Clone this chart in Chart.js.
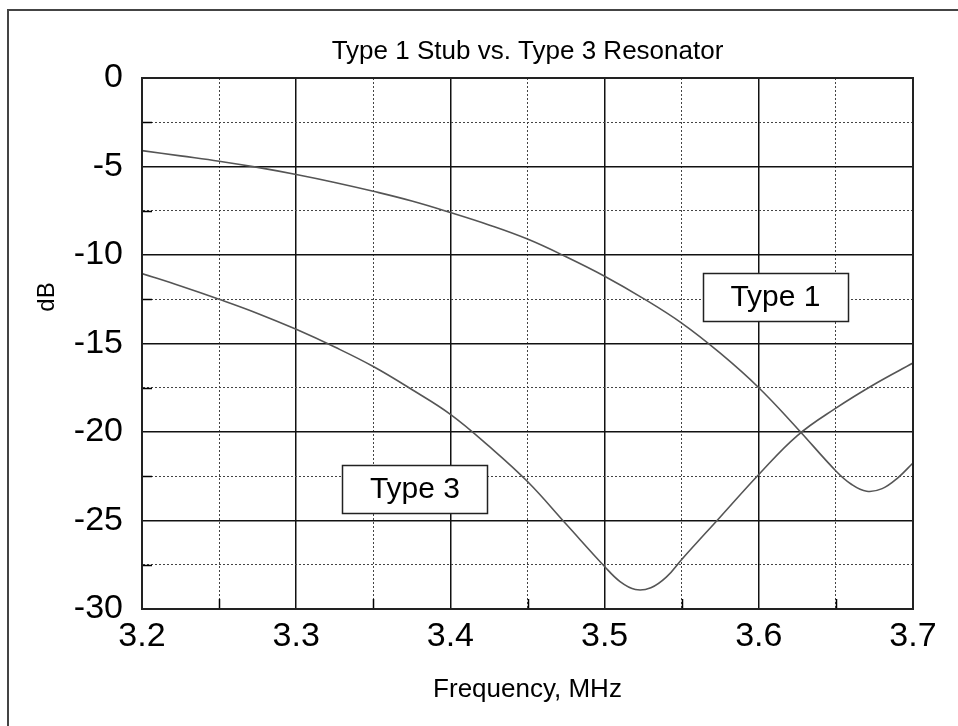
<!DOCTYPE html>
<html>
<head>
<meta charset="utf-8">
<script src="https://cdn.jsdelivr.net/npm/chart.js@4/dist/chart.umd.min.js"></script>
<style>
html, body { margin: 0; padding: 0; background: #fff; }
#wrap { width: 958px; height: 726px; position: relative; }
</style>
</head>
<body>
<div id="wrap"><canvas id="chart"></canvas></div>
<script>
// frequency (MHz) / level (dB)
var freq1 = [3.2, 3.225, 3.25, 3.275, 3.3, 3.325, 3.35, 3.375, 3.4, 3.425, 3.45, 3.475, 3.5, 3.525, 3.55, 3.575, 3.6, 3.625, 3.65, 3.66, 3.67, 3.68, 3.69, 3.7];
var type1 = [-4.1, -4.4, -4.7, -5.05, -5.45, -5.9, -6.4, -6.95, -7.6, -8.3, -9.1, -10.1, -11.2, -12.45, -13.85, -15.55, -17.5, -19.8, -22.2, -22.95, -23.35, -23.2, -22.6, -21.75];
var freq3 = [3.2, 3.225, 3.25, 3.275, 3.3, 3.325, 3.35, 3.375, 3.4, 3.425, 3.45, 3.475, 3.5, 3.51, 3.52, 3.53, 3.54, 3.55, 3.575, 3.6, 3.625, 3.65, 3.675, 3.7];
var type3 = [-11.05, -11.75, -12.5, -13.3, -14.2, -15.2, -16.3, -17.6, -19.0, -20.8, -22.8, -25.2, -27.6, -28.45, -28.9, -28.8, -28.2, -27.2, -24.8, -22.4, -20.2, -18.65, -17.3, -16.1];
var xRange = [3.2, 3.7];
var yRange = [-30, 0];
var xStep = 0.05;   // dotted every 0.05, labelled every 0.1
var yStep = 2.5;    // dotted every 2.5, labelled every 5
var titleText = 'Type 1 Stub vs. Type 3 Resonator';
var yTitle = 'dB';

function pts(xs, ys) {
    return xs.map(function(x, i) { return {x: x, y: ys[i]}; });
}
function isMajor(v, step) {
    var r = v / step;
    return Math.abs(r - Math.round(r)) < 1e-6;
}

var FONT = "'Liberation Sans', Arial, sans-serif";

// text boxes sitting on the plot (data coords)
var boxes = [
    {text: 'Type 1', x: 3.6108, y: -12.37},
    {text: 'Type 3', x: 3.377, y: -23.22}
];

var extras = {
    id: 'extras',
    beforeDraw: function(chart) {
        var c = chart.ctx, a = chart.chartArea;
        c.save();
        c.fillStyle = '#fff';
        c.fillRect(0, 0, chart.width, chart.height);
        c.strokeStyle = '#444';
        c.lineWidth = 2;
        c.strokeRect(8, 10, chart.width + 20, chart.height + 20);
        // title over the plot, and the y axis name
        c.fillStyle = '#000';
        c.textAlign = 'center';
        c.textBaseline = 'middle';
        c.font = '26px ' + FONT;
        c.fillText(titleText, (a.left + a.right) / 2, 52);
        c.translate(47, 297);
        c.rotate(-Math.PI / 2);
        c.font = '24px ' + FONT;
        c.fillText(yTitle, 0, 0);
        c.restore();
    },
    afterDatasetsDraw: function(chart) {
        var c = chart.ctx, a = chart.chartArea;
        var xs = chart.scales.x, ys = chart.scales.y;
        c.save();
        // short solid ticks on the minor lines
        c.strokeStyle = '#000';
        c.lineWidth = 1.5;
        xs.ticks.forEach(function(t) {
            if (isMajor(t.value, 0.1)) return;
            var px = Math.round(xs.getPixelForValue(t.value)) + 0.5;
            c.beginPath(); c.moveTo(px, a.bottom); c.lineTo(px, a.bottom - 10); c.stroke();
        });
        ys.ticks.forEach(function(t) {
            if (isMajor(t.value, 5)) return;
            var py = Math.round(ys.getPixelForValue(t.value)) + 0.5;
            c.beginPath(); c.moveTo(a.left, py); c.lineTo(a.left + 10, py); c.stroke();
        });
        // plot frame
        c.lineWidth = 2;
        c.strokeStyle = '#222';
        c.strokeRect(a.left, a.top, a.right - a.left, a.bottom - a.top);
        // labels
        c.font = '30px ' + FONT;
        c.textAlign = 'center';
        c.textBaseline = 'middle';
        boxes.forEach(function(b) {
            var cx = xs.getPixelForValue(b.x), cy = ys.getPixelForValue(b.y);
            var w = 145, h = 48;
            c.fillStyle = '#fff';
            c.fillRect(cx - w / 2, cy - h / 2, w, h);
            c.strokeStyle = '#222';
            c.lineWidth = 1.5;
            c.strokeRect(Math.round(cx - w / 2) + 0.5, Math.round(cy - h / 2) + 0.5, w, h);
            c.fillStyle = '#000';
            c.fillText(b.text, cx, cy + 1);
        });
        c.restore();
    }
};

var gridOpts = function(bigStep) {
    return {
        drawTicks: false,
        color: function(ctx) { return ctx.tick && isMajor(ctx.tick.value, bigStep) ? '#111' : '#444'; },
        lineWidth: function(ctx) { return ctx.tick && isMajor(ctx.tick.value, bigStep) ? 1.5 : 1; }
    };
};
var borderOpts = function(bigStep) {
    return {
        display: true,
        color: '#222',
        width: 2,
        dash: function(ctx) { return ctx.tick && isMajor(ctx.tick.value, bigStep) ? [] : [2, 2]; }
    };
};

var myChart = new Chart(document.getElementById('chart'), {
    type: 'line',
    data: {
        datasets: [{
            label: 'Type 1',
            data: pts(freq1, type1),
            borderColor: '#555',
            borderWidth: 1.6,
            pointRadius: 0,
            tension: 0.4,
            fill: false
        }, {
            label: 'Type 3',
            data: pts(freq3, type3),
            borderColor: '#555',
            borderWidth: 1.6,
            pointRadius: 0,
            tension: 0.4,
            fill: false
        }]
    },
    options: {
        responsive: true,
        maintainAspectRatio: false,
        animation: false,
        layout: { padding: { left: 0, right: 45, top: 78, bottom: 0 } },
        plugins: {
            legend: { display: false },
            tooltip: { enabled: false },
            title: { display: false }
        },
        scales: {
            x: {
                type: 'linear',
                min: xRange[0],
                max: xRange[1],
                afterBuildTicks: function(s) {
                    var t = [];
                    for (var v = xRange[0]; v <= xRange[1] + 1e-9; v += xStep) t.push({value: Math.round(v * 1000) / 1000});
                    s.ticks = t;
                },
                afterFit: function(s) { s.height = 117; },
                ticks: {
                    autoSkip: false,
                    maxRotation: 0,
                    padding: 7,
                    color: '#000',
                    font: { family: FONT, size: 34 },
                    callback: function(v) { return isMajor(v, 0.1) ? v.toFixed(1) : ''; }
                },
                grid: gridOpts(0.1),
                border: borderOpts(0.1),
                title: {
                    display: true,
                    text: 'Frequency, MHz',
                    color: '#000',
                    font: { family: FONT, size: 26 },
                    padding: { top: 0, bottom: 21 }
                }
            },
            y: {
                min: yRange[0],
                max: yRange[1],
                afterBuildTicks: function(s) {
                    var t = [];
                    for (var v = yRange[0]; v <= yRange[1] + 1e-9; v += yStep) t.push({value: v});
                    s.ticks = t;
                },
                afterFit: function(s) { s.width = 142; },
                ticks: {
                    autoSkip: false,
                    padding: 19,
                    color: '#000',
                    font: { family: FONT, size: 34 },
                    callback: function(v) { return isMajor(v, 5) ? String(v === 0 ? 0 : v) : ''; }
                },
                grid: gridOpts(5),
                border: borderOpts(5)
            }
        }
    },
    plugins: [extras]
});
</script>
</body>
</html>
